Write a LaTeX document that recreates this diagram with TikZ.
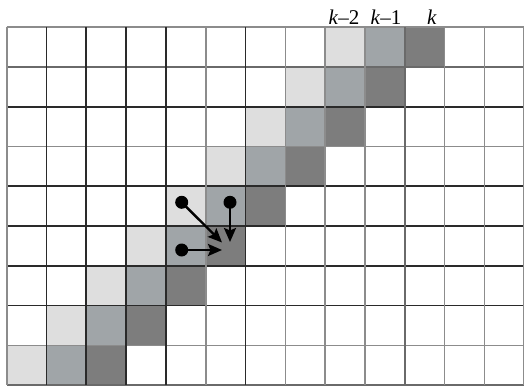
\documentclass[tikz,border=0pt]{standalone}
\usepackage{fontspec}
\setmainfont{Liberation Serif}
\usetikzlibrary{arrows.meta}
\definecolor{lightc}{HTML}{DEDEDE}
\definecolor{midc}{HTML}{A0A5A8}
\definecolor{darkc}{HTML}{7D7D7D}
\definecolor{linedark}{HTML}{2A2A2A}
\definecolor{linegray}{HTML}{8C8C8C}
\definecolor{linemid}{HTML}{6A6A6A}
\begin{document}
\begin{tikzpicture}[x=1pt,y=-1pt,
  griddark/.style={draw=linedark,line width=1.8pt},
  gridgray/.style={draw=linegray,line width=1.6pt},
  gridmid/.style={draw=linemid,line width=1.7pt},
  dotnode/.style={circle,fill=black,inner sep=0pt,minimum size=13pt},
  arr/.style={line width=2.4pt,-{Stealth[length=14pt,width=12pt,inset=2.5pt]}},
  lab/.style={anchor=base,inner sep=0pt,font=\fontsize{21}{24}\selectfont}]
\useasboundingbox (0,0) rectangle (524,387);
\begin{scope}
\clip (0,0) rectangle (524,387);
% shaded diagonal bands
\foreach \r in {0,...,8} {
  \pgfmathsetmacro\yy{27.3+\r*39.75}
  \pgfmathsetmacro\xa{6.7+(8-\r)*39.8}
  \pgfmathsetmacro\xb{6.7+(9-\r)*39.8}
  \pgfmathsetmacro\xc{6.7+(10-\r)*39.8}
  \fill[lightc] (\xa,\yy) rectangle ++(39.8,39.75);
  \fill[midc] (\xb,\yy) rectangle ++(39.8,39.75);
  \fill[darkc] (\xc,\yy) rectangle ++(39.8,39.75);
}
% grid lines
\foreach \i/\s in {0/gridgray,1/gridmid,2/griddark,3/gridgray,4/griddark,5/griddark,6/griddark,7/griddark,8/gridgray,9/gridmid}
  \draw[\s] (6.7,{27.3+\i*39.75}) -- (530,{27.3+\i*39.75});
\foreach \i/\s in {0/gridgray,1/griddark,2/griddark,3/griddark,4/griddark,5/gridgray,6/griddark,7/gridgray,8/gridgray,9/gridgray,10/gridmid,11/gridgray,12/gridgray,13/gridgray}
  \draw[\s] ({6.7+\i*39.8},27.3) -- ({6.7+\i*39.8},385);
\end{scope}
% labels
\node[lab] (lk2) at (344,25) {\textit{k}–2};
\node[lab] (lk1) at (386,25) {\textit{k}–1};
\node[lab] (lk) at (432,25) {\textit{k}};
% dots and arrows
\node[dotnode] (d1) at (181.7,202.3) {};
\node[dotnode] (d2) at (230,202.3) {};
\node[dotnode] (d3) at (181.7,250) {};
\coordinate (t1) at (222,242.5);
\coordinate (t2) at (230,242);
\coordinate (t3) at (222,250);
\draw[arr] (d1.center) -- (t1);
\draw[arr] (d2.center) -- (t2);
\draw[arr] (d3.center) -- (t3);
\end{tikzpicture}
\end{document}
